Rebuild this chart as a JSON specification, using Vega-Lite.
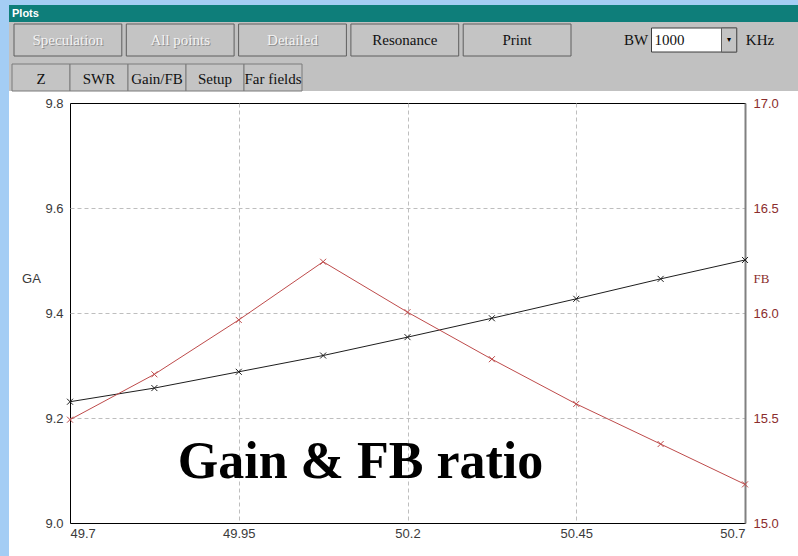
{
  "$schema": "https://vega.github.io/schema/vega-lite/v6.json",
  "background": "#ffffff",
  "padding": 0,
  "config": {"view": {"stroke": null}, "font": "Liberation Sans"},
  "datasets": {
    "sweep": [
      {"f": 49.7, "ga": 9.231, "fb": 15.492},
      {"f": 49.825, "ga": 9.257, "fb": 15.708},
      {"f": 49.95, "ga": 9.288, "fb": 15.967},
      {"f": 50.075, "ga": 9.319, "fb": 16.244},
      {"f": 50.2, "ga": 9.354, "fb": 16.004},
      {"f": 50.325, "ga": 9.39, "fb": 15.78},
      {"f": 50.45, "ga": 9.427, "fb": 15.567},
      {"f": 50.575, "ga": 9.465, "fb": 15.376},
      {"f": 50.7, "ga": 9.501, "fb": 15.184}
    ],
    "buttons": [{"b": "Speculation"}, {"b": "All points"}, {"b": "Detailed"}, {"b": "Resonance"}, {"b": "Print"}],
    "tabs": [{"t": "Z"}, {"t": "SWR"}, {"t": "Gain/FB"}, {"t": "Setup"}, {"t": "Far fields"}],
    "one": [{"k": 1}],
    "none": []
  },
  "spacing": 0,
  "bounds": "full",
  "hconcat": [
    {
      "width": 9, "height": 556,
      "view": {"fill": "#A4CDF4", "stroke": null},
      "data": {"name": "none"},
      "mark": "point",
      "encoding": {}
    },
    {
      "columns": 1,
      "spacing": 0,
      "align": "none",
      "bounds": "full",
      "concat": [
        {
          "width": 789, "height": 5,
          "view": {"fill": "#A4CDF4", "stroke": null},
          "data": {"name": "none"},
          "mark": "point",
          "encoding": {}
        },
        {
          "width": 789, "height": 17,
          "view": {"fill": "#0E7E7A", "stroke": null},
          "data": {"name": "one"},
          "mark": {"type": "text", "font": "Liberation Sans", "fontSize": 11, "fontWeight": "bold", "color": "#ffffff", "align": "left", "baseline": "middle"},
          "encoding": {
            "x": {"datum": "Plots", "type": "nominal", "scale": {"domain": ["Plots"], "range": [0, 6], "paddingInner": 0, "paddingOuter": 0}, "axis": null},
            "text": {"value": "Plots"}
          }
        },
        {
          "spacing": 0,
          "hconcat": [
            {
              "width": 571, "height": 40,
              "view": {"fill": "#C1C1C1", "stroke": null},
              "data": {"name": "buttons"},
              "encoding": {
                "x": {"field": "b", "type": "nominal", "sort": null, "scale": {"domain": ["Speculation", "All points", "Detailed", "Resonance", "Print"], "range": [5, 562], "paddingInner": 0.04, "paddingOuter": 0}, "axis": null},
                "y": {"datum": "r", "type": "nominal", "scale": {"range": [2, 34], "paddingInner": 0, "paddingOuter": 0}, "axis": null}
              },
              "layer": [
                {"mark": {"type": "rect", "fill": "#C4C4C4", "stroke": "#5E5E5E", "strokeWidth": 1}},
                {
                  "transform": [{"filter": "indexof(['Resonance','Print'], datum.b) < 0"}],
                  "mark": {"type": "text", "font": "Liberation Serif", "fontSize": 15, "color": "#8E8E8E", "dx": 1, "dy": 1},
                  "encoding": {"text": {"field": "b"}}
                },
                {
                  "mark": {"type": "text", "font": "Liberation Serif", "fontSize": 15},
                  "encoding": {
                    "text": {"field": "b"},
                    "color": {"condition": {"test": "indexof(['Resonance','Print'], datum.b) >= 0", "value": "#111111"}, "value": "#F2F2F2"}
                  }
                }
              ]
            },
            {
              "width": 218, "height": 40,
              "view": {"fill": "#C1C1C1", "stroke": null},
              "data": {"name": "one"},
              "encoding": {
                "y": {"datum": "r", "type": "nominal", "scale": {"range": [6, 30], "paddingInner": 0, "paddingOuter": 0}, "axis": null}
              },
              "layer": [
                {
                  "mark": {"type": "rect", "fill": "#ffffff", "stroke": "#3C3C3C", "strokeWidth": 1},
                  "encoding": {
                    "x": {"datum": "1000", "type": "nominal", "bandPosition": 0, "scale": {"domain": ["BW", "1000", "c", "▾", "KHz"], "range": [40.5, 195.5], "paddingInner": 0, "paddingOuter": 0}, "axis": null},
                    "x2": {"datum": "▾", "bandPosition": 0.75}
                  }
                },
                {
                  "mark": {"type": "rect", "fill": "#C4C4C4", "stroke": "#5E5E5E", "strokeWidth": 1, "width": 15},
                  "encoding": {"x": {"datum": "▾", "type": "nominal"}}
                },
                {
                  "mark": {"type": "text", "font": "DejaVu Sans", "fontSize": 8, "color": "#000000"},
                  "encoding": {"x": {"datum": "▾", "type": "nominal"}, "text": {"value": "▾"}}
                },
                {
                  "mark": {"type": "text", "font": "Liberation Serif", "fontSize": 15, "color": "#111111"},
                  "encoding": {"x": {"datum": "BW", "type": "nominal"}, "text": {"value": "BW"}}
                },
                {
                  "mark": {"type": "text", "font": "Liberation Serif", "fontSize": 15, "color": "#111111", "align": "left", "dx": 3},
                  "encoding": {"x": {"datum": "1000", "type": "nominal", "bandPosition": 0}, "text": {"value": "1000"}}
                },
                {
                  "mark": {"type": "text", "font": "Liberation Serif", "fontSize": 15, "color": "#111111"},
                  "encoding": {"x": {"datum": "KHz", "type": "nominal"}, "text": {"value": "KHz"}}
                }
              ]
            }
          ]
        },
        {
          "width": 789, "height": 29,
          "view": {"fill": "#C1C1C1", "stroke": null},
          "data": {"name": "tabs"},
          "encoding": {
            "x": {"field": "t", "type": "nominal", "sort": null, "scale": {"domain": ["Z", "SWR", "Gain/FB", "Setup", "Far fields"], "range": [3, 293], "paddingInner": 0, "paddingOuter": 0}, "axis": null},
            "y": {"datum": "r", "type": "nominal", "scale": {"range": [2, 29], "paddingInner": 0, "paddingOuter": 0}, "axis": null}
          },
          "layer": [
            {"mark": {"type": "rect", "fill": "#C4C4C4", "stroke": "#7A7A7A", "strokeWidth": 1}},
            {"mark": {"type": "text", "font": "Liberation Serif", "fontSize": 15, "color": "#111111", "dy": 1}, "encoding": {"text": {"field": "t"}}}
          ]
        },
        {
          "width": 789, "height": 4,
          "view": {"fill": "#ffffff", "stroke": null},
          "data": {"name": "none"},
          "mark": "point",
          "encoding": {}
        },
        {
          "spacing": 0,
          "hconcat": [
            {
              "width": 1, "height": 420,
              "view": {"fill": "#ffffff", "stroke": null},
              "data": {"name": "none"},
              "mark": "point",
              "encoding": {}
            },
            {
              "width": 675, "height": 420,
              "view": {"fill": "#ffffff", "stroke": "#000000", "strokeWidth": 1},
              "data": {"name": "sweep"},
              "encoding": {
                "x": {
                  "field": "f", "type": "quantitative",
                  "scale": {"domain": [49.7, 50.7], "nice": false, "zero": false},
                  "axis": {
                    "values": [49.7, 49.95, 50.2, 50.45, 50.7], "format": ".4~r",
                    "title": "Gain & FB ratio", "titleX": 290, "titleY": -46, "titleAlign": "center", "titleBaseline": "alphabetic",
                    "titleFont": "Liberation Serif", "titleFontSize": 52, "titleFontWeight": "bold", "titleColor": "#000000",
                    "ticks": false, "domain": false, "grid": true, "gridColor": "#BEBEBE", "gridDash": [4, 3], "gridWidth": 1,
                    "gridOpacity": {"condition": {"test": "datum.value < 49.71 || datum.value > 50.69", "value": 0}, "value": 1},
                    "labelFont": "Liberation Sans", "labelFontSize": 13, "labelColor": "#3A3A3A", "labelPadding": 4
                  }
                }
              },
              "layer": [
                {
                  "encoding": {
                    "y": {
                      "field": "ga", "type": "quantitative",
                      "scale": {"domain": [9.0, 9.8], "nice": false, "zero": false},
                      "axis": {
                        "orient": "left", "values": [9.0, 9.2, 9.4, 9.6, 9.8], "format": ".1f",
                        "title": "GA", "titleAngle": 0, "titleX": -39, "titleY": 175, "titleAlign": "center", "titleBaseline": "middle",
                        "titleFont": "Liberation Sans", "titleFontWeight": "normal", "titleFontSize": 13, "titleColor": "#3A3A3A",
                        "grid": true, "gridColor": "#BEBEBE", "gridDash": [4, 3], "gridWidth": 1,
                        "gridOpacity": {"condition": {"test": "datum.value < 9.01 || datum.value > 9.79", "value": 0}, "value": 1},
                        "ticks": false, "domain": false, "labelPadding": 7, "minExtent": 59, "maxExtent": 59,
                        "labelFont": "Liberation Sans", "labelFontSize": 13, "labelColor": "#3A3A3A"
                      }
                    }
                  },
                  "layer": [
                    {"mark": {"type": "line", "color": "#1E1E1E", "strokeWidth": 1}},
                    {"mark": {"type": "point", "shape": "M-1,-1L1,1M-1,1L1,-1", "filled": false, "color": "#1E1E1E", "size": 36, "strokeWidth": 1, "opacity": 1}}
                  ]
                },
                {
                  "encoding": {
                    "y": {
                      "field": "fb", "type": "quantitative",
                      "scale": {"domain": [15.0, 17.0], "nice": false, "zero": false},
                      "axis": {
                        "orient": "right", "values": [15.0, 15.5, 16.0, 16.5, 17.0], "format": ".1f",
                        "title": "FB", "titleAngle": 0, "titleX": 16, "titleY": 175, "titleAlign": "center", "titleBaseline": "middle",
                        "titleFont": "Liberation Serif", "titleFontWeight": "normal", "titleFontSize": 13, "titleColor": "#8B2D2D",
                        "grid": false, "ticks": false, "domain": true, "domainColor": "#808080", "domainWidth": 2,
                        "labelPadding": 8, "labelFont": "Liberation Sans", "labelFontSize": 13, "labelColor": "#8B2D2D"
                      }
                    }
                  },
                  "layer": [
                    {"mark": {"type": "line", "color": "#BE4B4B", "strokeWidth": 1}},
                    {"mark": {"type": "point", "shape": "M-1,-1L1,1M-1,1L1,-1", "filled": false, "color": "#BE4B4B", "size": 36, "strokeWidth": 1, "opacity": 1}}
                  ]
                }
              ],
              "resolve": {"scale": {"y": "independent"}}
            }
          ]
        }
      ]
    }
  ]
}
